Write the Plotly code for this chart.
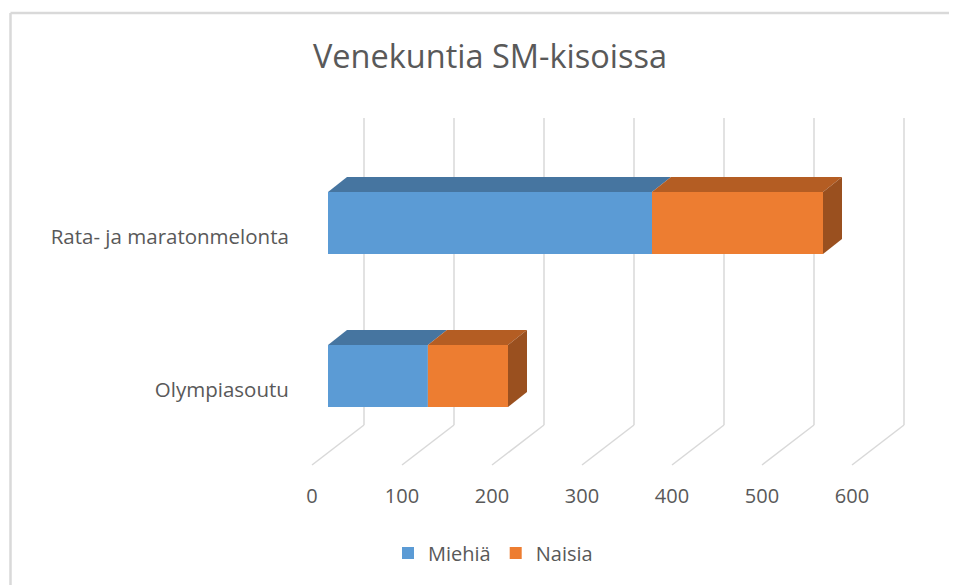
import plotly.graph_objects as go

# data
title = "Venekuntia SM-kisoissa"
categories = ["Olympiasoutu", "Rata- ja maratonmelonta"]
miehia = [111, 360]
naisia = [89, 190]
x_ticks = [0, 100, 200, 300, 400, 500, 600]

# page offset of the plot inside the html body
OFF = 8
W, H = 957 - OFF, 585 - OFF

# plot area in screen pixels
px_left, px_right, px_top, px_bottom = 300, 915, 110, 470
L, R, T, B = px_left - OFF, W - (px_right - OFF), px_top - OFF, H - (px_bottom - OFF)

# pseudo-3D geometry (screen pixels -> axis units)
px_x = 0.9            # px per x unit
px_y = 153.0          # px per category step
x0_px = 312           # front floor position of value 0
cat0_px = 376         # front-face centre of first category
x_min = (px_left - x0_px) / px_x
x_max = (px_right - x0_px) / px_x
y_min = (cat0_px - px_bottom) / px_y
y_max = (cat0_px - px_top) / px_y

wall_dx = 52 / px_x
floor_front = (cat0_px - 465) / px_y
floor_back = (cat0_px - 425) / px_y
wall_top = (cat0_px - 118) / px_y
bar_start = 16 / px_x
bar_half = 31 / px_y
depth_dx = 19 / px_x
depth_dy = 15 / px_y
label_shift = 14 / px_y

blue, orange = "#5B9BD5", "#ED7D31"
blue_top, orange_top, orange_side = "#4675A0", "#B45D23", "#9A501F"
grid = "#D9D9D9"
txt = "#595959"
font = "'Open Sans', sans-serif"

fig = go.Figure()
ypos = list(range(len(categories)))

# front faces
fig.add_trace(go.Bar(name="Miehiä", y=ypos, x=miehia, base=[bar_start] * len(ypos),
                     orientation="h", width=2 * bar_half, marker=dict(color=blue, line=dict(width=0))))
fig.add_trace(go.Bar(name="Naisia", y=ypos, x=naisia,
                     base=[bar_start + m for m in miehia],
                     orientation="h", width=2 * bar_half, marker=dict(color=orange, line=dict(width=0))))

# top and side faces
for i, y in enumerate(ypos):
    segs = [(bar_start, bar_start + miehia[i], blue_top),
            (bar_start + miehia[i], bar_start + miehia[i] + naisia[i], orange_top)]
    yt = y + bar_half
    yb = y - bar_half
    for a, b, c in segs:
        fig.add_trace(go.Scatter(
            x=[a, b, b + depth_dx, a + depth_dx, a],
            y=[yt, yt, yt + depth_dy, yt + depth_dy, yt],
            mode="lines", fill="toself", fillcolor=c, line=dict(width=0, color=c),
            hoverinfo="skip", showlegend=False))
    end = bar_start + miehia[i] + naisia[i]
    fig.add_trace(go.Scatter(
        x=[end, end + depth_dx, end + depth_dx, end, end],
        y=[yb, yb + depth_dy, yt + depth_dy, yt, yb],
        mode="lines", fill="toself", fillcolor=orange_side, line=dict(width=0, color=orange_side),
        hoverinfo="skip", showlegend=False))

# back wall gridlines + floor diagonals, behind the bars
for v in x_ticks:
    fig.add_shape(type="line", xref="x", yref="y", layer="below",
                  x0=v, y0=floor_front, x1=v + wall_dx, y1=floor_back,
                  line=dict(color=grid, width=1.5))
    fig.add_shape(type="line", xref="x", yref="y", layer="below",
                  x0=v + wall_dx, y0=floor_back, x1=v + wall_dx, y1=wall_top,
                  line=dict(color=grid, width=1.5))

# chart border (top and left edges)
pw, ph = W - L - R, H - T - B
bx = (10.5 - OFF - L) / pw
by = (H - B - (13 - OFF)) / ph
fig.add_shape(type="line", xref="paper", yref="paper", x0=bx, x1=(W + 5 - L) / pw, y0=by, y1=by,
              line=dict(color=grid, width=2.5))
fig.add_shape(type="line", xref="paper", yref="paper", x0=bx, x1=bx, y0=by, y1=(-B - 5) / ph,
              line=dict(color=grid, width=2.5))

fig.update_layout(
    width=W, height=H,
    margin=dict(l=L, r=R, t=T, b=B),
    plot_bgcolor="white", paper_bgcolor="white",
    barmode="overlay",
    title=dict(text=title, x=(490 - OFF) / W, xanchor="center", y=1 - (57 - OFF) / H, yanchor="middle",
               font=dict(family=font, size=32.5, color=txt)),
    font=dict(family=font, color=txt),
    xaxis=dict(range=[x_min, x_max], tickvals=x_ticks, showgrid=False, zeroline=False,
               showline=False, ticks="outside", ticklen=8, tickcolor="rgba(0,0,0,0)",
               tickfont=dict(size=20, color=txt), fixedrange=True),
    yaxis=dict(range=[y_min, y_max], tickvals=[y - label_shift for y in ypos], ticktext=categories,
               showgrid=False, zeroline=False, showline=False, ticks="outside", ticklen=6,
               tickcolor="rgba(0,0,0,0)", tickfont=dict(size=20.5, color=txt), fixedrange=True),
    legend=dict(orientation="h", x=(493 - px_left) / (px_right - px_left), xanchor="center",
                y=(px_bottom - 553) / (px_bottom - px_top), yanchor="middle",
                font=dict(size=20, color=txt), traceorder="normal"),
    showlegend=True,
)

fig.write_html("out.html")
